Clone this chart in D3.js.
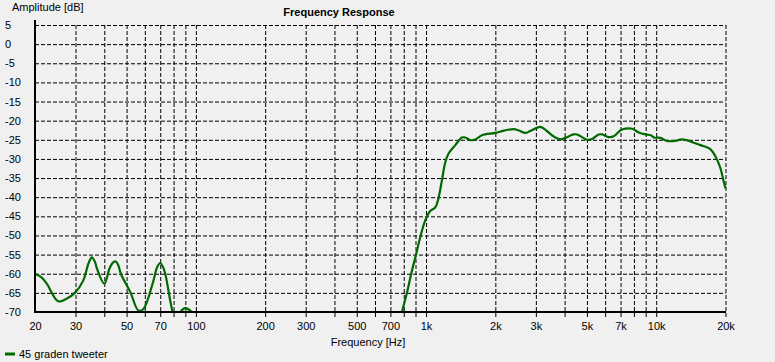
<!DOCTYPE html>
<html>
<head>
<meta charset="utf-8">
<script src="https://cdn.jsdelivr.net/npm/d3@7"></script>
<style>
    body { margin: 0; background: #f0f0f0; }
    #chart-div { width: 775px; height: 362px; }
    text { font-family: "Liberation Sans", Arial, sans-serif; font-size: 11px; fill: #000; }
</style>
</head>
<body>
<div id="chart-div"></div>
<script>
// measured curve, 45 graden tweeter
var freqHz = [20, 21.4, 22.5, 25.2, 27.3, 29.8, 32.4, 34.2, 35.3, 36.4, 37.1, 40, 42.1, 43.6, 44.9, 46.1, 47.2, 51.9, 56.3, 59.2, 64.5, 68, 70, 71.8, 73.6, 79.3, 82, 85.5, 89.9, 95.9,
    110, 300, 700, 760, 786, 826, 862, 903, 944, 993, 1043, 1096, 1132, 1172, 1213, 1253, 1340, 1433, 1481, 1557, 1636, 1750,
    2000, 2180, 2400, 2520, 2700, 2835, 3139, 3350, 3580, 3834, 4026, 4365, 4530, 5009, 5264, 5627, 5820, 6220, 6530,
    7000, 7350, 7860, 8400, 9000, 9470, 9800, 10430, 11150, 12070, 12900, 13550, 14470, 15570, 16650, 17220, 17800, 18420, 19030, 19500, 20000];
var ampDb = [-60, -61, -62.6, -67.2, -66.6, -65, -61.8, -57.2, -55.7, -56.8, -58.5, -62.6, -58.7, -57.1, -56.8, -57.9, -60, -64.8, -69.6, -69.2, -63.1, -58.2, -57.2, -58.1, -60, -70, -72, -70, -69, -70,
    -76, -80, -78, -74, -70, -65, -60, -55.2, -50.4, -46, -43.6, -42.7, -40.3, -35.6, -30.8, -28.6, -26.4, -24.4, -24.4, -25.1, -24.9, -23.8,
    -23.2, -22.6, -22.2, -22.5, -23.2, -22.7, -21.6, -22.7, -24.1, -24.9, -24.5, -23.6, -23.6, -25, -24.8, -23.6, -23.6, -24.3, -24.1,
    -22.5, -22.1, -22.1, -23.1, -23.6, -23.8, -24.4, -24.5, -25.3, -25.3, -24.9, -25.1, -25.7, -26.4, -27, -27.5, -28.6, -30.3, -32.5, -35.1, -37.7];

var gridFreqs = [30, 40, 50, 60, 70, 80, 90, 100, 200, 300, 400, 500, 600, 700, 800, 900,
    1000, 2000, 3000, 4000, 5000, 6000, 7000, 8000, 9000, 10000, 20000];
var labelFreqs = [20, 30, 50, 70, 100, 200, 300, 500, 700, 1000, 2000, 3000, 5000, 7000, 10000, 20000];
var labelText = ["20", "30", "50", "70", "100", "200", "300", "500", "700", "1k", "2k", "3k", "5k", "7k", "10k", "20k"];
var yTicks = [5, 0, -5, -10, -15, -20, -25, -30, -35, -40, -45, -50, -55, -60, -65, -70];
var seriesName = "45 graden tweeter";

var width = 775
var height = 362
var plot = {left: 35, right: 725.5, top: 25, bottom: 312};
var green = "#006a00";

var svg = d3.select('#chart-div')
            .append('svg')
            .attr("width", width)
            .attr("height", height);

var x = d3.scaleLog()
    .domain([20, 20000])
    .range([plot.left, plot.right]);

var y = d3.scaleLinear()
    .domain([-70, 5])
    .range([plot.bottom, plot.top]);

// vertical grid (dashed, runs a bit below the axis)
var xGrid = d3.axisBottom(x)
    .tickValues(gridFreqs)
    .tickSize(-(plot.bottom + 5 - plot.top))
    .tickFormat("");

svg.append("g")
    .attr("class", "x grid")
    .attr("transform", "translate(0," + (plot.bottom + 5) + ")")
    .call(xGrid)
    .call(function(g) { g.select(".domain").remove(); })
    .selectAll("line")
    .attr("stroke", "#000")
    .attr("stroke-dasharray", "4,2");

// horizontal grid
var yGrid = d3.axisLeft(y)
    .tickValues(yTicks.filter(function(d) { return d > -70; }))
    .tickSize(-(plot.right - plot.left))
    .tickFormat("");

svg.append("g")
    .attr("class", "y grid")
    .attr("transform", "translate(" + plot.left + ",0)")
    .call(yGrid)
    .call(function(g) { g.select(".domain").remove(); })
    .selectAll("line")
    .attr("stroke", "#000")
    .attr("stroke-dasharray", "4,2");

// curve
svg.append("clipPath")
    .attr("id", "plot-clip")
  .append("rect")
    .attr("x", plot.left)
    .attr("y", 15)
    .attr("width", plot.right - plot.left + 1)
    .attr("height", plot.bottom - 15);

var data = freqHz.map(function(f, i) { return {f: f, v: ampDb[i]}; });

var line = d3.line()
    .x(function(d) { return x(d.f); })
    .y(function(d) { return y(d.v); })
    .curve(d3.curveCatmullRom.alpha(0.5));

svg.append("path")
    .datum(data)
    .attr("clip-path", "url(#plot-clip)")
    .attr("fill", "none")
    .attr("stroke", green)
    .attr("stroke-width", 2.2)
    .attr("stroke-linejoin", "round")
    .attr("d", line);

// thick axis lines
svg.append("line")
    .attr("x1", plot.left).attr("x2", plot.left)
    .attr("y1", 20).attr("y2", plot.bottom + 1)
    .attr("stroke", "#000").attr("stroke-width", 2);

svg.append("line")
    .attr("x1", plot.left - 1).attr("x2", plot.right + 0.5)
    .attr("y1", plot.bottom).attr("y2", plot.bottom)
    .attr("stroke", "#000").attr("stroke-width", 2);

// tick labels
var xAxis = d3.axisBottom(x)
    .tickValues(labelFreqs)
    .tickSize(0)
    .tickPadding(10)
    .tickFormat(function(d, i) { return labelText[i]; });

svg.append("g")
    .attr("class", "x axis")
    .attr("transform", "translate(0," + plot.bottom + ")")
    .call(xAxis)
    .call(function(g) { g.select(".domain").remove(); })
    .selectAll("text")
    .attr("font-family", null)
    .attr("font-size", null);

var yAxis = d3.axisLeft(y)
    .tickValues(yTicks)
    .tickSize(0)
    .tickFormat(function(d) { return String(d); });

svg.append("g")
    .attr("class", "y axis")
    .attr("transform", "translate(" + plot.left + ",0)")
    .call(yAxis)
    .call(function(g) { g.select(".domain").remove(); })
    .selectAll("text")
    .attr("font-family", null)
    .attr("font-size", null)
    .attr("text-anchor", "start")
    .attr("x", 5 - plot.left);

// titles
svg.append("text")
    .attr("x", 339)
    .attr("y", 16)
    .attr("text-anchor", "middle")
    .style('font-weight', 'bold')
    .text("Frequency Response");

svg.append("text")
    .attr("x", 12)
    .attr("y", 11)
    .text("Amplitude [dB]");

svg.append("text")
    .attr("x", 368)
    .attr("y", 346)
    .attr("text-anchor", "middle")
    .text("Frequency [Hz]");

//Legend
var legend = svg.append("g")
    .attr("class", "legend")
    .attr("transform", "translate(5,354)");

legend.append("line")
    .attr("x1", 0).attr("x2", 10)
    .attr("y1", 0).attr("y2", 0)
    .attr("stroke", green)
    .attr("stroke-width", 3);

legend.append("text")
    .attr("x", 14)
    .attr("y", 4)
    .text(seriesName);
</script>
</body>
</html>
